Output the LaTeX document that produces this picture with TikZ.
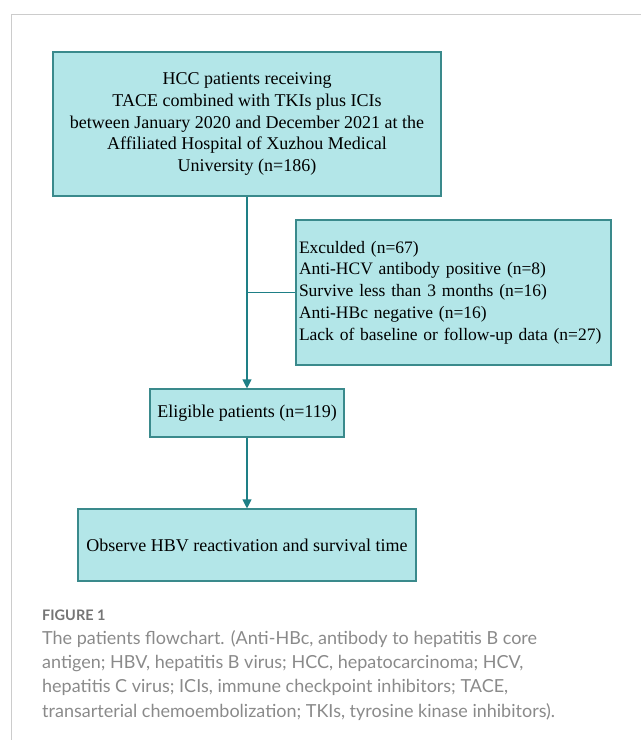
\documentclass[tikz,border=0pt]{standalone}
\usepackage{fontspec}
\setmainfont{Liberation Serif}
\newfontfamily\capfont{Lato}
\usetikzlibrary{arrows.meta}
\definecolor{boxfill}{HTML}{B3E6E8}
\definecolor{boxline}{HTML}{3A8A8C}
\definecolor{arrcol}{HTML}{1E7F86}
\definecolor{framecol}{HTML}{CCCCCC}
\definecolor{capgray}{HTML}{8A8A8A}
\definecolor{figgray}{HTML}{757575}
\tikzset{
  flowbox/.style={draw=boxline, line width=1.1pt, fill=boxfill, inner sep=0pt,
    font=\fontsize{18}{21.75}\selectfont},
  conn/.style={draw=arrcol, line width=1.1pt},
  arr/.style={conn, -{Triangle[length=9pt,width=9pt]}},
}
\begin{document}
\begin{tikzpicture}[x=1pt,y=-1pt]
\useasboundingbox (0,0) rectangle (641,740);
\draw[framecol, line width=1pt] (11,740) -- (11,14) -- (641,14);

\node[flowbox, minimum width=388pt, minimum height=144pt, align=center] (top) at (247,124)
  {HCC patients receiving\\TACE combined with TKIs plus ICIs\\between January 2020 and December 2021 at the\\Affiliated Hospital of Xuzhou Medical\\University (n=186)};

\node[flowbox, minimum width=315pt, minimum height=145pt, text width=309pt, inner xsep=3pt, align=left, font=\fontsize{17.5}{21.75}\selectfont] (excl) at (453.5,292.5)
  {Exculded (n=67)\\Anti-HCV antibody positive (n=8)\\Survive less than 3 months (n=16)\\Anti-HBc negative (n=16)\\Lack of baseline or follow-up data (n=27)};

\node[flowbox, minimum width=194pt, minimum height=48pt] (elig) at (247,413)
  {Eligible patients (n=119)};

\node[flowbox, minimum width=338pt, minimum height=72pt] (final) at (247,545)
  {Observe HBV reactivation and survival time};

\draw[arr] (top.south) -- (elig.north);
\draw[conn] (top.south |- excl.west) -- (excl.west);
\draw[arr] (elig.south) -- (final.north);

\node[anchor=base west, inner sep=0pt, text=figgray, font=\capfont\bfseries\fontsize{14.5}{17}\selectfont] (fig) at (42,620) {FIGURE 1};
\node[anchor=base west, inner sep=0pt, text=capgray, align=left, font=\capfont\fontsize{18}{24.4}\selectfont] (cap) at (42,717.2)
  {The patients flowchart. (Anti-HBc, antibody to hepatitis B core\\antigen; HBV, hepatitis B virus; HCC, hepatocarcinoma; HCV,\\hepatitis C virus; ICIs, immune checkpoint inhibitors; TACE,\\transarterial chemoembolization; TKIs, tyrosine kinase inhibitors).};
\end{tikzpicture}
\end{document}
